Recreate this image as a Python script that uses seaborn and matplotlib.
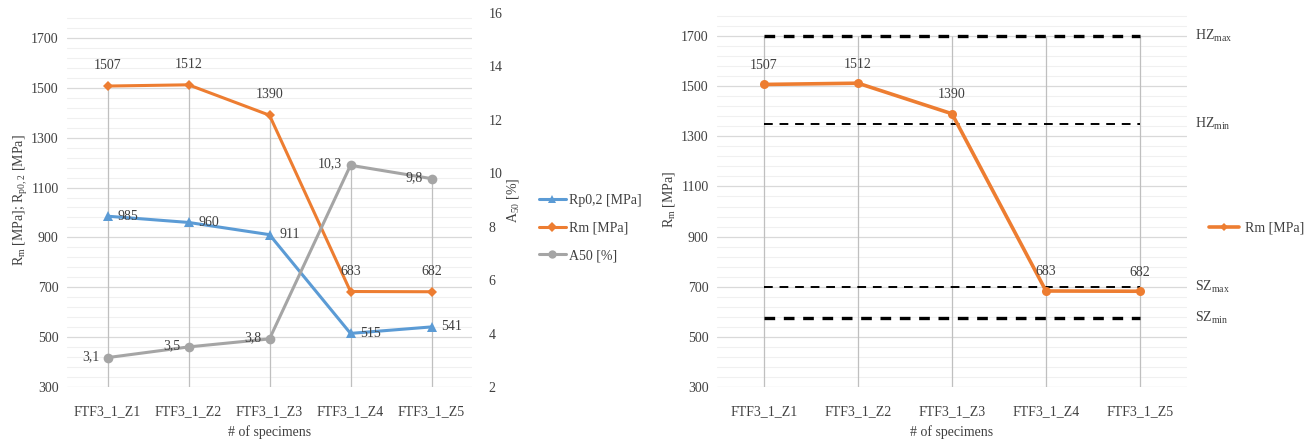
import numpy as np
import pandas as pd
import matplotlib
matplotlib.use("Agg")
import matplotlib.pyplot as plt
import matplotlib.transforms as mtransforms
from matplotlib.lines import Line2D
import seaborn as sns

# ---- data ----
specimens = ["FTF3_1_Z1", "FTF3_1_Z2", "FTF3_1_Z3", "FTF3_1_Z4", "FTF3_1_Z5"]
rp02 = [985, 960, 911, 515, 541]
rm = [1507, 1512, 1390, 683, 682]
a50 = [3.1, 3.5, 3.8, 10.3, 9.8]

limit_names = ["HZ$_{max}$", "HZ$_{min}$", "SZ$_{max}$", "SZ$_{min}$"]
limit_values = [1700, 1350, 700, 575]
limit_widths = [2.4, 1.4, 1.4, 2.4]

sns.set_theme(style="white")
plt.rcParams["font.family"] = ["Liberation Serif", "DejaVu Serif"]
plt.rcParams["mathtext.fontset"] = "custom"
plt.rcParams["mathtext.rm"] = "Liberation Serif"
plt.rcParams["mathtext.it"] = "Liberation Serif"
plt.rcParams["mathtext.bf"] = "Liberation Serif"

BLUE = "#5B9BD5"
ORANGE = "#ED7D31"
GRAY = "#A5A5A5"
TXT = "#404040"
FS = 10

W, H = 1313, 446
fig = plt.figure(figsize=(W / 100, H / 100), dpi=100)


def px_axes(x0, y0, x1, y1):
    return fig.add_axes([x0 / W, 1 - y1 / H, (x1 - x0) / W, (y1 - y0) / H])


def style_axis(ax):
    ax.set_xlim(-0.5, 4.5)
    ax.set_ylim(300, 1800)
    ax.set_yticks(np.arange(300, 1800, 200))
    ax.set_yticks(np.arange(300, 1801, 40), minor=True)
    ax.grid(axis="y", which="minor", color="#f0f0f0", lw=0.8)
    ax.grid(axis="y", which="major", color="#d9d9d9", lw=0.9)
    ax.grid(axis="x", visible=False)
    ax.set_axisbelow(True)
    for s in ax.spines.values():
        s.set_visible(False)
    ax.tick_params(axis="both", which="both", length=0, labelsize=FS,
                   labelcolor=TXT)
    ax.tick_params(axis="y", pad=6)
    ax.tick_params(axis="x", pad=13)
    ax.set_xticks(range(len(specimens)))
    ax.set_xticklabels(specimens)


df = pd.DataFrame({"specimen": specimens, "rp02": rp02, "rm": rm, "a50": a50})
xpos = np.arange(len(specimens))

# ================= left chart =================
axl = px_axes(67, 13, 472, 387)
style_axis(axl)
axr = axl.twinx()
axr.set_ylim(2, 16)
axr.set_yticks(np.arange(2, 17, 2))
for s in axr.spines.values():
    s.set_visible(False)
axr.tick_params(axis="y", which="both", length=0, labelsize=FS,
                labelcolor=TXT, pad=12)
axr.grid(False)

# drop lines up to the highest point of each specimen
a50_on_left = 300 + (np.array(a50) - 2) * 1500 / 14
tops = np.maximum.reduce([np.array(rm), np.array(rp02), a50_on_left])
axl.vlines(xpos, 300, tops, color="#bfbfbf", lw=0.9, zorder=1)

sns.lineplot(data=df, x="specimen", y="rp02", ax=axl, color=BLUE, lw=2.2,
             marker="^", markersize=7, markeredgewidth=0, sort=False, zorder=3)
sns.lineplot(data=df, x="specimen", y="rm", ax=axl, color=ORANGE, lw=2.2,
             marker="D", markersize=5.5, markeredgewidth=0, sort=False, zorder=3)
sns.lineplot(data=df, x="specimen", y="a50", ax=axr, color=GRAY, lw=2.2,
             marker="o", markersize=7, markeredgewidth=0, sort=False, zorder=3)

for i, v in enumerate(rm):
    axl.annotate(f"{v}", (i, v), xytext=(0, 10), textcoords="offset points",
                 ha="center", va="bottom", fontsize=FS, color=TXT)
for i, v in enumerate(rp02):
    axl.annotate(f"{v}", (i, v), xytext=(7, 0), textcoords="offset points",
                 ha="left", va="center", fontsize=FS, color=TXT)
for i, v in enumerate(a50):
    axr.annotate(f"{v}".replace(".", ","), (i, v), xytext=(-6, 1),
                 textcoords="offset points", ha="right", va="center",
                 fontsize=FS, color=TXT)

axl.set_ylabel(r"R$_{m}$ [MPa]; R$_{p0,2}$ [MPa]", fontsize=FS, color=TXT,
               labelpad=1)
axl.set_xlabel("# of specimens", fontsize=FS, color=TXT, labelpad=5)
axr.set_ylabel(r"A$_{50}$ [%]", fontsize=FS, color=TXT, labelpad=2)
axr.set_xlabel("")

handles_l = [
    Line2D([], [], color=BLUE, lw=2.2, marker="^", markersize=6, markeredgewidth=0),
    Line2D([], [], color=ORANGE, lw=2.2, marker="D", markersize=5, markeredgewidth=0),
    Line2D([], [], color=GRAY, lw=2.2, marker="o", markersize=6, markeredgewidth=0),
]
fig.legend(handles_l, ["Rp0,2 [MPa]", "Rm [MPa]", "A50 [%]"],
           loc="center left", bbox_to_anchor=(526 / W, 1 - 228 / H),
           frameon=False, fontsize=FS, handlelength=2.0, handletextpad=0.2,
           labelspacing=1.05, labelcolor=TXT)

# ================= right chart =================
ax2 = px_axes(717, 11, 1187, 387)
style_axis(ax2)
ax2.vlines(xpos, 300, max(limit_values), color="#bfbfbf", lw=0.9, zorder=1)

for name, val, lw in zip(limit_names, limit_values, limit_widths):
    ax2.plot(xpos, [val] * len(xpos), color="black", lw=lw,
             ls=(0, (3.2, 2.6)) if lw > 2 else (0, (4.5, 3.5)), zorder=2)
    trans = mtransforms.blended_transform_factory(ax2.transAxes, ax2.transData)
    ax2.text(1.018, val, name, transform=trans, ha="left", va="center",
             fontsize=FS, color=TXT)

sns.lineplot(data=df, x="specimen", y="rm", ax=ax2, color=ORANGE, lw=2.6,
             marker="o", markersize=6.5, markeredgewidth=0, sort=False, zorder=3)
for i, v in enumerate(rm):
    ax2.annotate(f"{v}", (i, v), xytext=(0, 9), textcoords="offset points",
                 ha="center", va="bottom", fontsize=FS, color=TXT)
ax2.set_ylabel(r"R$_{m}$ [MPa]", fontsize=FS, color=TXT, labelpad=3)
ax2.set_xlabel("# of specimens", fontsize=FS, color=TXT, labelpad=5)

fig.legend([Line2D([], [], color=ORANGE, lw=2.6, marker="D", markersize=4.5,
                   markeredgewidth=0)], ["Rm [MPa]"],
           loc="center left", bbox_to_anchor=(1196 / W, 1 - 228 / H),
           frameon=False, fontsize=FS, handlelength=2.2, handletextpad=0.4,
           labelcolor=TXT)

fig.savefig("out.png", dpi=100)
